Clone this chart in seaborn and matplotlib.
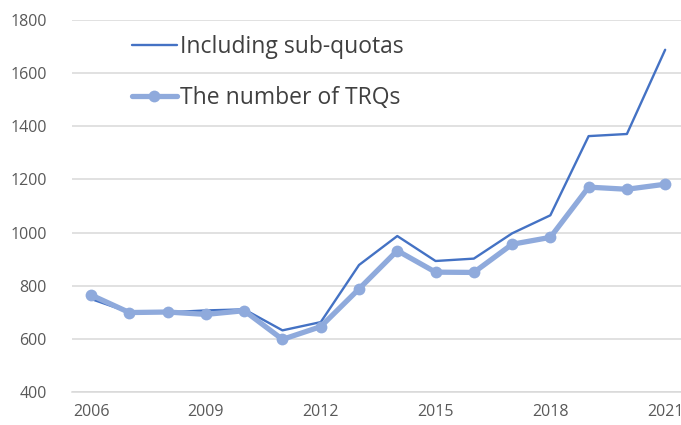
import matplotlib
matplotlib.use("Agg")
import matplotlib.pyplot as plt
import seaborn as sns
import numpy as np
import pandas as pd

years = list(range(2006, 2022))
including_sub_quotas = [750, 700, 700, 707, 711, 632, 663, 878, 987, 893, 902, 997, 1065, 1363, 1371, 1688]
number_of_trqs = [765, 699, 701, 692, 706, 598, 646, 788, 932, 851, 850, 956, 982, 1171, 1163, 1182]
label_years = [2006, 2009, 2012, 2015, 2018, 2021]
y_ticks = [400, 600, 800, 1000, 1200, 1400, 1600, 1800]

sns.set_theme(style="white")
plt.rcParams['font.family'] = ['Open Sans', 'DejaVu Sans']

df = pd.DataFrame({
    "year": years * 2,
    "value": including_sub_quotas + number_of_trqs,
    "series": ["Including sub-quotas"] * len(years) + ["The number of TRQs"] * len(years),
})

fig = plt.figure(figsize=(6.81, 4.25), dpi=100)
W, H = 681, 425
ax = fig.add_axes([72 / W, (425 - 392) / H, 612.3 / W, 372 / H])

c_dark = "#4472C4"
c_light = "#8FAADC"

sns.lineplot(data=df[df.series == "Including sub-quotas"], x="year", y="value",
             ax=ax, color=c_dark, linewidth=1.7, label="Including sub-quotas", zorder=3)
sns.lineplot(data=df[df.series == "The number of TRQs"], x="year", y="value",
             ax=ax, color=c_light, linewidth=3.8, marker="o", markersize=8.5,
             markeredgewidth=0, label="The number of TRQs", zorder=4)

ax.set_xlim(2005.5, 2021.5)
ax.set_ylim(400, 1800)
ax.set_yticks(y_ticks)
ax.set_xticks(label_years)
ax.set_xticks(np.arange(2005.5, 2022, 1.0), minor=True)
ax.tick_params(axis="x", which="major", length=0, pad=9, labelsize=11.5, labelcolor="#595959")
ax.tick_params(axis="x", which="minor", length=5, width=1, color="#D9D9D9", direction="out")
ax.tick_params(axis="y", which="major", length=0, pad=18, labelsize=11.5, labelcolor="#595959")
ax.grid(axis="y", color="#D9D9D9", linewidth=1.1)
ax.set_axisbelow(True)
for s in ["left", "right", "top"]:
    ax.spines[s].set_visible(False)
ax.spines["bottom"].set_color("#D9D9D9")
ax.spines["bottom"].set_linewidth(1.1)
ax.set_xlabel("")
ax.set_ylabel("")

leg = ax.legend(loc="upper left", bbox_to_anchor=(132 / W, 1 - 35 / H),
                bbox_transform=fig.transFigure, frameon=False, fontsize=16.5,
                handlelength=1.95, handletextpad=0.13, labelspacing=1.2,
                borderpad=0, borderaxespad=0)
for t in leg.get_texts():
    t.set_color("#404040")

fig.savefig("out.png", dpi=100)
